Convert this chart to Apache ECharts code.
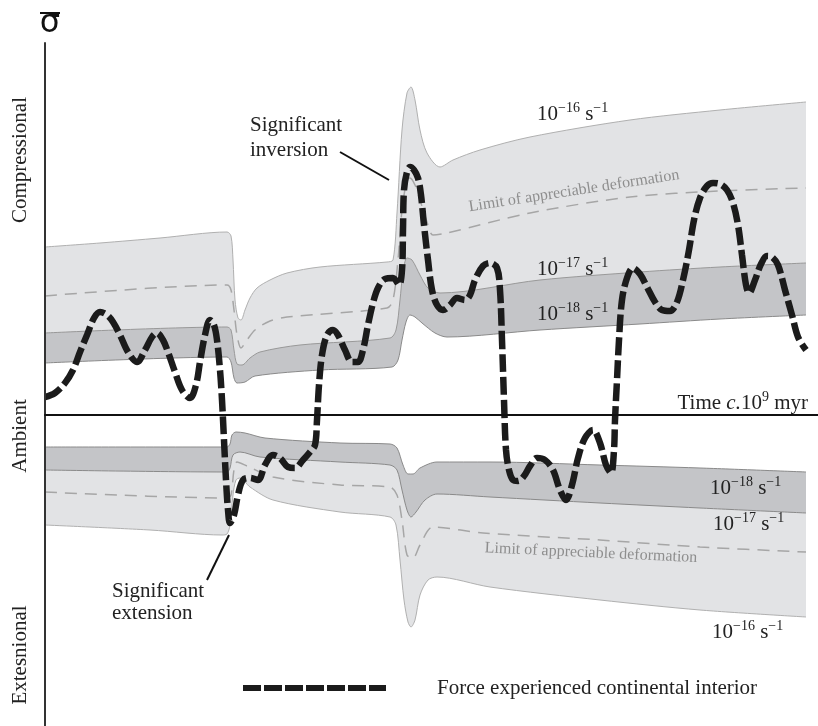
<!DOCTYPE html>
<html><head><meta charset="utf-8">
<script src="https://cdn.jsdelivr.net/npm/echarts@6/dist/echarts.min.js"></script>
<style>html,body{margin:0;padding:0;background:#fff}#c{width:818px;height:726px}</style>
</head><body><div id="c"></div>
<script>
// x: time (arbitrary units), y: stress relative to ambient (arbitrary units)
const upperLightTop = [[0,168],[55,172],[115,177],[182,183],[186,179],[188,155],[190,115],[193,97],[196,95],[200,105],[205,117],[212,127],[225,135],[242,142],[275,148],[342,153],[348,155],[352,202],[357,285],[362,322],[366,328],[370,315],[375,285],[382,262],[395,248],[408,255],[435,265],[485,278],[585,295],[675,305],[761,313]];
const upperDarkTop = [[0,82],[182,88],[186,85],[189,65],[192,51],[197,50],[205,57],[215,63],[255,70],[345,77],[351,85],[355,115],[358,143],[362,157],[367,155],[375,140],[383,127],[395,122],[495,135],[595,143],[675,148],[761,152]];
const upperDarkBottom = [[0,52],[182,58],[186,53],[189,37],[192,32],[200,33],[210,39],[275,45],[347,48],[353,55],[357,75],[361,93],[365,100],[370,98],[377,92],[390,82],[402,78],[495,85],[595,91],[675,96],[761,100]];
const upperLimit = [[0,119],[182,130],[186,125],[189,105],[192,80],[196,67],[202,75],[210,85],[225,94],[242,98],[342,107],[348,115],[353,155],[357,205],[361,230],[365,237],[370,230],[375,215],[382,193],[388,180],[402,182],[485,202],[585,218],[675,224],[761,227]];
const lowerDarkTop = [[0,-32],[182,-32],[185,-29],[187,-20],[191,-17],[200,-18],[220,-23],[295,-28],[345,-29],[352,-33],[358,-50],[363,-59],[368,-59],[375,-53],[392,-47],[445,-47],[555,-50],[655,-53],[761,-57]];
const lowerDarkBottom = [[0,-55],[182,-57],[185,-53],[188,-40],[195,-37],[215,-42],[295,-47],[345,-50],[352,-55],[357,-75],[362,-95],[366,-102],[371,-97],[380,-85],[392,-79],[445,-82],[555,-88],[655,-93],[761,-98]];
const lowerLightBottom = [[0,-110],[105,-115],[177,-120],[182,-119],[185,-110],[188,-80],[191,-65],[195,-63],[205,-72],[228,-85],[295,-97],[345,-102],[351,-110],[355,-145],[359,-185],[363,-207],[366,-212],[370,-205],[375,-180],[383,-165],[392,-162],[445,-172],[555,-185],[655,-195],[761,-202]];
const lowerLimit = [[0,-77],[182,-83],[186,-80],[189,-55],[192,-47],[202,-51],[228,-62],[295,-70],[345,-72],[352,-80],[357,-105],[362,-140],[368,-143],[375,-130],[388,-112],[438,-118],[555,-125],[655,-132],[761,-137]];
const forceInterior = [[0,18],[10,22],[20,32],[28,45],[35,63],[42,80],[49,97],[55,103],[62,100],[68,93],[75,80],[83,63],[92,53],[100,65],[107,78],[112,82],[118,75],[123,63],[130,43],[137,25],[145,17],[151,30],[155,53],[160,80],[165,95],[169,90],[172,75],[175,45],[177,15],[179,-25],[181,-65],[183,-95],[185,-108],[189,-100],[193,-80],[198,-65],[205,-63],[213,-65],[220,-50],[228,-40],[235,-43],[243,-52],[250,-53],[258,-45],[265,-37],[270,-30],[272,-5],[274,30],[277,60],[282,80],[288,85],[293,80],[300,65],[307,53],[313,53],[318,65],[323,90],[328,112],[333,127],[340,136],[348,137],[354,130],[357,145],[358,185],[359,225],[362,243],[365,248],[369,245],[373,237],[376,220],[379,190],[383,155],[387,125],[392,110],[398,105],[405,110],[412,117],[420,115],[425,120],[430,135],[438,149],[445,152],[452,147],[455,125],[457,75],[459,15],[461,-35],[464,-55],[468,-65],[473,-66],[479,-61],[485,-51],[492,-43],[500,-45],[508,-55],[515,-75],[521,-85],[527,-70],[533,-43],[540,-23],[548,-15],[555,-28],[561,-50],[566,-58],[569,-35],[570,-5],[572,35],[574,75],[577,115],[582,137],[588,147],[595,141],[602,128],[610,113],[617,105],[625,104],[632,113],[638,135],[644,165],[649,195],[655,217],[662,229],[668,232],[675,231],[682,225],[688,212],[693,190],[697,160],[701,130],[704,122],[710,135],[716,151],[722,159],[727,158],[733,150],[740,125],[747,100],[753,78],[761,65]];
const rateLabels = ['−16','−17','−18'];

const SERIF = "'Liberation Serif','DejaVu Serif',serif";
const LIGHT = '#e2e3e5', DARK = '#c4c5c8';

function area(data, fill, stroke) {
  return {type:'line', data:data, smooth:0.3, symbol:'none', silent:true,
    lineStyle:{color:stroke, width:1}, areaStyle:{color:fill, opacity:1}};
}
function dashed(data) {
  return {type:'line', data:data, smooth:0.3, symbol:'none', silent:true,
    lineStyle:{color:'#a6a6a6', width:1.5, type:[12,8]}};
}
const richSci = {
  n:{fontSize:21, fontFamily:SERIF, fill:'#222', lineHeight:24, verticalAlign:'bottom'},
  s:{fontSize:14, fontFamily:SERIF, fill:'#222', lineHeight:24, verticalAlign:'top'},
  i:{fontSize:21, fontFamily:SERIF, fill:'#222', lineHeight:24, verticalAlign:'bottom', fontStyle:'italic'}
};
function sciText(exp, x, y) {
  return {type:'text', z:100, x:x, y:y, style:{text:'{n|10}{s|'+exp+'}{n| s}{s|−1}', rich:richSci, textVerticalAlign:'middle'}};
}
function plain(text, x, y, opts, rot) {
  return {type:'text', z:100, x:x, y:y, rotation:rot||0, style:Object.assign({text:text, font:'21px '+SERIF, fill:'#222', textVerticalAlign:'middle'}, opts||{})};
}

const chart = echarts.init(document.getElementById('c'));
chart.setOption({
  animation:false,
  backgroundColor:'#fff',
  grid:{left:45, right:0, top:43, bottom:0},
  xAxis:{type:'value', min:0, max:773, z:10, axisLine:{show:true, onZero:true, lineStyle:{color:'#111', width:2}}, axisTick:{show:false}, axisLabel:{show:false}, splitLine:{show:false}},
  yAxis:{type:'value', min:-311, max:372, z:10, axisLine:{show:true, lineStyle:{color:'#333', width:2}}, axisTick:{show:false}, axisLabel:{show:false}, splitLine:{show:false}},
  series:[
    area(upperLightTop, LIGHT, '#b0b0b0'),
    area(upperDarkTop, DARK, '#999'),
    area(upperDarkBottom, '#fff', '#8a8a8a'),
    area(lowerLightBottom, LIGHT, '#b0b0b0'),
    area(lowerDarkBottom, DARK, '#8a8a8a'),
    area(lowerDarkTop, '#fff', '#8a8a8a'),
    dashed(upperLimit),
    dashed(lowerLimit),
    {type:'line', data:forceInterior, smooth:0.35, symbol:'none', silent:true, z:5,
      lineStyle:{color:'#1b1b1b', width:6.5, type:[18,5], cap:'butt'}}
  ],
  graphic:[
    {type:'text', z:100, x:50, y:24, style:{text:'σ', font:"32px 'DejaVu Sans',sans-serif", fill:'#111', textAlign:'center', textVerticalAlign:'middle'}},
    {type:'line', z:100, shape:{x1:40, y1:13, x2:60, y2:13}, style:{stroke:'#111', lineWidth:2}},
    plain('Compressional', 20, 160, {textAlign:'center'}, Math.PI/2),
    plain('Ambient', 20, 436, {textAlign:'center'}, Math.PI/2),
    plain('Extesnional', 20, 655, {textAlign:'center'}, Math.PI/2),
    sciText(rateLabels[0], 537, 113),
    sciText(rateLabels[1], 537, 268),
    sciText(rateLabels[2], 537, 313),
    sciText(rateLabels[2], 710, 487),
    sciText(rateLabels[1], 713, 523),
    sciText(rateLabels[0], 712, 631),
    {type:'text', z:100, x:808, y:402, style:{text:'{n|Time }{i|c.}{n|10}{s|9}{n| myr}', rich:richSci, textAlign:'right', textVerticalAlign:'middle'}},
    {type:'text', z:100, x:250, y:138, style:{text:'Significant\ninversion', font:'21px '+SERIF, fill:'#222', lineHeight:25, textVerticalAlign:'middle'}},
    {type:'line', z:100, shape:{x1:340, y1:152, x2:389, y2:180}, style:{stroke:'#111', lineWidth:2}},
    {type:'text', z:100, x:112, y:602, style:{text:'Significant\nextension', font:'21px '+SERIF, fill:'#222', lineHeight:22, textVerticalAlign:'middle'}},
    {type:'line', z:100, shape:{x1:207, y1:580, x2:229, y2:535}, style:{stroke:'#111', lineWidth:2}},
    {type:'text', z:100, x:574, y:191, rotation:0.152, style:{text:'Limit of appreciable deformation', font:'16px '+SERIF, fill:'#8e8e8e', textAlign:'center', textVerticalAlign:'middle'}},
    {type:'text', z:100, x:591, y:553, rotation:-0.046, style:{text:'Limit of appreciable deformation', font:'16px '+SERIF, fill:'#8e8e8e', textAlign:'center', textVerticalAlign:'middle'}},
    {type:'line', z:100, shape:{x1:243, y1:688, x2:386, y2:688}, style:{stroke:'#1b1b1b', lineWidth:6, lineDash:[18,3]}},
    plain('Force experienced continental interior', 437, 688)
  ]
});
</script></body></html>
